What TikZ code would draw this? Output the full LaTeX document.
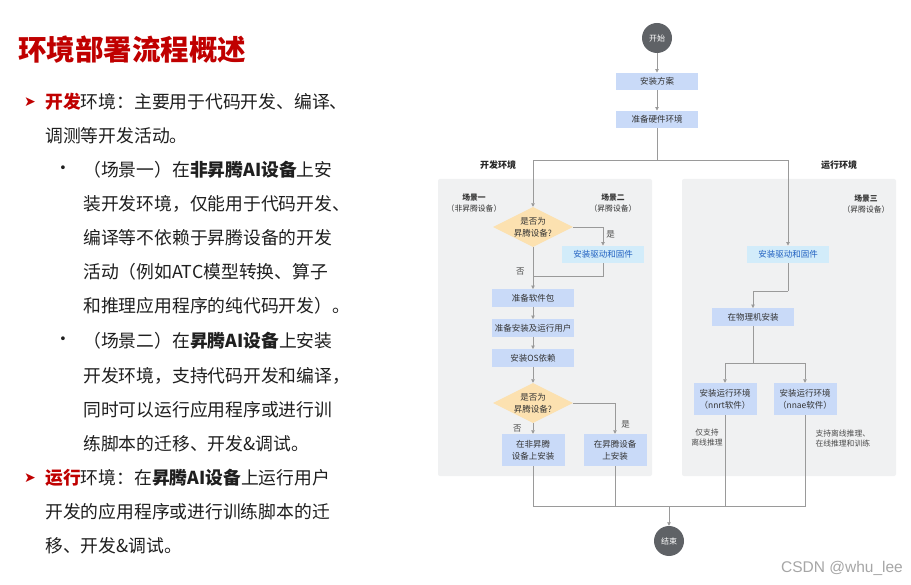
\documentclass[tikz,border=0pt]{standalone}
\usepackage{fontspec}
\setmainfont{Noto Sans CJK SC}
\newfontfamily\symfont{DejaVu Sans}
\newfontfamily\wmfont{Liberation Sans}
\usetikzlibrary{shapes.geometric,arrows.meta}

\definecolor{titlered}{HTML}{C00000}
\definecolor{boxblue}{HTML}{C9DAF8}
\definecolor{drvcyan}{HTML}{D2ECFA}
\definecolor{drvtext}{HTML}{1F5FC0}
\definecolor{decorange}{HTML}{FCE1B0}
\definecolor{panelgray}{HTML}{F0F1F2}
\definecolor{termgray}{HTML}{5F6266}
\definecolor{linegray}{HTML}{9A9A9A}

\begin{document}
\begin{tikzpicture}[
    x=1pt, y=-1pt,
    titletxt/.style={anchor=west, inner sep=0pt, text=titlered,
                     font=\fontsize{28.5}{30}\selectfont\bfseries},
    bodytxt/.style={anchor=west, inner sep=0pt, text=black!88,
                    font=\fontsize{17.8}{20}\selectfont},
    arrowbul/.style={inner sep=0pt, text=titlered, font=\symfont\fontsize{14}{15}\selectfont},
    dotbul/.style={inner sep=0pt, text=black!88, font=\fontsize{17.8}{20}\selectfont},
    termnode/.style={circle, fill=termgray, text=white, minimum size=30pt,
                     inner sep=0pt, font=\fontsize{8}{9}\selectfont},
    stepbox/.style={rectangle, fill=boxblue, minimum width=82pt, minimum height=17.5pt,
                    inner sep=0pt, text=black!80, font=\fontsize{8.5}{10.5}\selectfont},
    drvbox/.style={stepbox, fill=drvcyan, text=drvtext},
    tallbox/.style={stepbox, minimum width=63pt, minimum height=32pt, align=center,
                    font=\fontsize{8.5}{12}\selectfont},
    decision/.style={diamond, fill=decorange, minimum width=80pt, minimum height=40pt,
                     aspect=2, inner sep=0pt, align=center, text=black!80,
                     font=\fontsize{8.5}{12}\selectfont},
    panel/.style={rectangle, fill=panelgray, rounded corners=2pt, inner sep=0pt},
    envlbl/.style={font=\fontsize{9}{11}\selectfont\bfseries, text=black!85},
    scnlbl/.style={align=center, font=\fontsize{7.8}{11}\selectfont, text=black!80},
    notelbl/.style={align=center, font=\fontsize{7.8}{10}\selectfont, text=black!70},
    branchlbl/.style={font=\fontsize{8.5}{10}\selectfont, text=black!70, inner sep=1pt},
    wmark/.style={font=\wmfont\fontsize{15.5}{17}\selectfont, text=black!35},
    conn/.style={draw=linegray, line width=0.8pt},
    flow/.style={conn, -{Triangle[length=3.5pt, width=3.5pt]}},
]

% --- Canvas ---
\fill[white] (0,0) rectangle (911,585);
\useasboundingbox (0,0) rectangle (911,585);

% --- Title and text on the left ---
\node[titletxt] (title) at (18,50) {环境部署流程概述};

\node[arrowbul] (bul1) at (30,102) {➤};
\node[bodytxt] (t1) at (45,102) {{\color{titlered}\bfseries 开发}环境：主要用于代码开发、编译、};
\node[bodytxt] (t2) at (45,136) {调测等开发活动。};
\node[dotbul] (dot1) at (63,170) {•};
\node[bodytxt] (t3) at (83,170) {（场景一）在\textbf{非昇腾AI设备}上安};
\node[bodytxt] (t4) at (83,204) {装开发环境，仅能用于代码开发、};
\node[bodytxt] (t5) at (83,238) {编译等不依赖于昇腾设备的开发};
\node[bodytxt] (t6) at (83,272) {活动（例如ATC模型转换、算子};
\node[bodytxt] (t7) at (83,306) {和推理应用程序的纯代码开发）。};
\node[dotbul] (dot2) at (63,341) {•};
\node[bodytxt] (t8) at (83,341) {（场景二）在\textbf{昇腾AI设备}上安装};
\node[bodytxt] (t9) at (83,376) {开发环境，支持代码开发和编译，};
\node[bodytxt] (t10) at (83,410) {同时可以运行应用程序或进行训};
\node[bodytxt] (t11) at (83,444) {练脚本的迁移、开发\&调试。};
\node[arrowbul] (bul2) at (30,478) {➤};
\node[bodytxt] (t12) at (45,478) {{\color{titlered}\bfseries 运行}环境：在\textbf{昇腾AI设备}上运行用户};
\node[bodytxt] (t13) at (45,512) {开发的应用程序或进行训练脚本的迁};
\node[bodytxt] (t14) at (45,546) {移、开发\&调试。};

% --- Panels ---
\node[panel, minimum width=214pt, minimum height=297pt] (devpanel) at (545,327.5) {};
\node[panel, minimum width=214pt, minimum height=297pt] (runpanel) at (789,327.5) {};
\node[envlbl] (devlbl) at (498,165) {开发环境};
\node[envlbl] (runlbl) at (839,165) {运行环境};
\node[scnlbl] (scn1) at (474,203.5) {\textbf{场景一}\\（非昇腾设备）};
\node[scnlbl] (scn2) at (613,203.5) {\textbf{场景二}\\（昇腾设备）};
\node[scnlbl] (scn3) at (866,204.5) {\textbf{场景三}\\（昇腾设备）};

% --- Common steps ---
\node[termnode] (begin) at (657,38) {开始};
\node[stepbox] (plan) at (657,81.5) {安装方案};
\node[stepbox] (hw) at (657,119.5) {准备硬件环境};

% --- Development environment ---
\node[decision] (d1) at (533,227) {是否为\\昇腾设备?};
\node[drvbox] (drv2) at (603,254.5) {安装驱动和固件};
\node[stepbox] (pkg) at (533,298) {准备软件包};
\node[stepbox] (user) at (533,328) {准备安装及运行用户};
\node[stepbox] (os) at (533,358) {安装OS依赖};
\node[decision] (d2) at (533,403) {是否为\\昇腾设备?};
\node[tallbox] (nonasc) at (533,450) {在非昇腾\\设备上安装};
\node[tallbox] (onasc) at (615,450) {在昇腾设备\\上安装};

% --- Runtime environment ---
\node[drvbox] (drv3) at (788,254.5) {安装驱动和固件};
\node[stepbox] (phys) at (753,317) {在物理机安装};
\node[tallbox] (nnrt) at (725,399) {安装运行环境\\（nnrt软件）};
\node[tallbox] (nnae) at (805,399) {安装运行环境\\（nnae软件）};
\node[notelbl] (nnrtnote) at (707,437.5) {仅支持\\离线推理};
\node[notelbl, anchor=west, align=left] (nnaenote) at (812,439) {支持离线推理、\\在线推理和训练};

\node[termnode] (finish) at (669,541) {结束};

% --- Junctions ---
\coordinate (split) at (657,160);
\coordinate (join1) at (533,276);
\coordinate (bend3) at (788,291);
\coordinate (fork) at (753,363);
\coordinate (merge) at (669,506);

% --- Connections ---
\draw[flow] (begin) -- (plan);
\draw[flow] (plan) -- (hw);
\draw[conn] (hw) -- (split);
\draw[flow] (split) -| (d1);
\draw[flow] (split) -| (drv3);

\draw[flow] (d1.east) -| (drv2) node[branchlbl, pos=0.7, right=2pt] {是};
\draw[conn] (drv2) |- (join1);
\draw[flow] (d1) -- (pkg) node[branchlbl, pos=0.57, left=7pt] {否};
\draw[flow] (pkg) -- (user);
\draw[flow] (user) -- (os);
\draw[flow] (os) -- (d2);
\draw[flow] (d2.east) -| (onasc) node[branchlbl, pos=0.85, right=5pt] {是};
\draw[flow] (d2) -- (nonasc) node[branchlbl, midway, left=10pt] {否};

\draw[conn] (drv3) -- (bend3);
\draw[flow] (bend3) -| (phys);
\draw[conn] (phys) -- (fork);
\draw[flow] (fork) -| (nnrt);
\draw[flow] (fork) -| (nnae);

\draw[conn] (nonasc) |- (merge);
\draw[conn] (onasc) |- (merge);
\draw[conn] (nnrt) |- (merge);
\draw[conn] (nnae) |- (merge);
\draw[flow] (merge) -- (finish);

% --- Watermark ---
\node[wmark] (csdn) at (842,568) {CSDN @whu\_lee};

\end{tikzpicture}
\end{document}
